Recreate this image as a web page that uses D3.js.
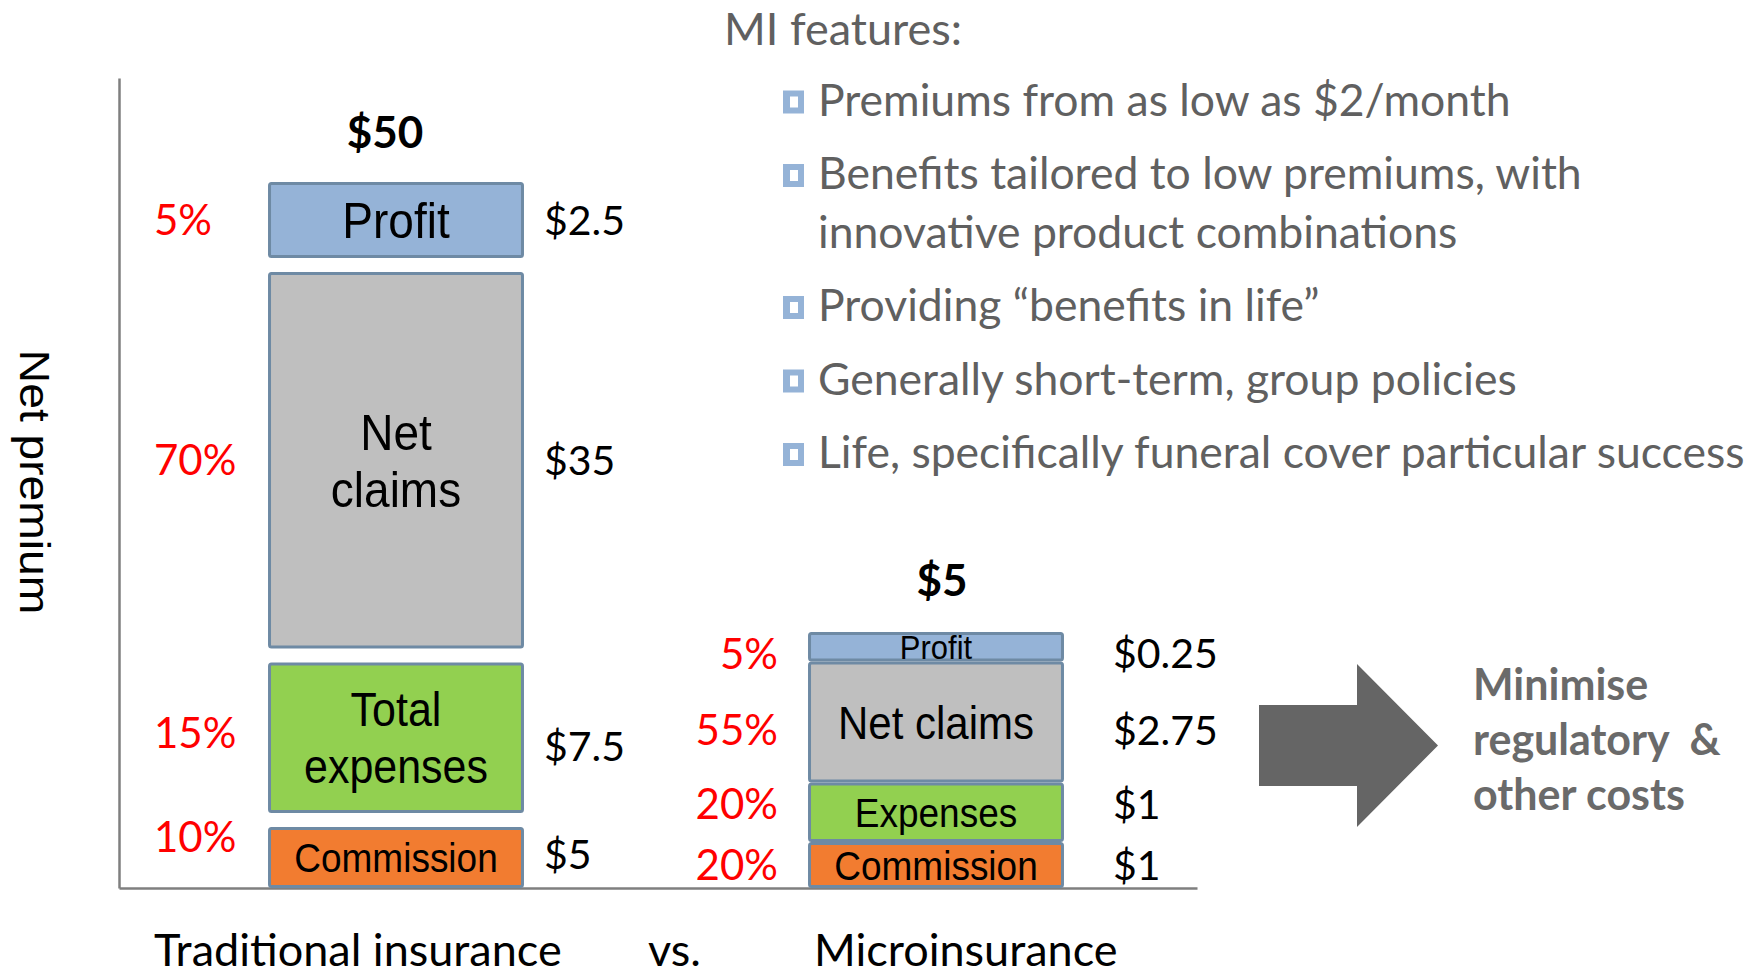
<!DOCTYPE html>
<html>
<head>
<meta charset="utf-8">
<script src="https://cdn.jsdelivr.net/npm/d3@7"></script>
<style>
  body { margin: 0; background: #fff; }
</style>
</head>
<body>
<svg id="chart"></svg>
<script>
// ---- data ----
// cost components, listed bottom to top of each stacked bar
var components = ["Commission", "Expenses", "Net claims", "Profit"];
var tradValues = [5, 7.5, 35, 2.5];        // $ per net premium of $50
var microValues = [1, 1, 2.75, 0.25];      // $ per net premium of $5
var tradBoxText = [["Commission"], ["Total", "expenses"], ["Net", "claims"], ["Profit"]];
var microBoxText = [["Commission"], ["Expenses"], ["Net claims"], ["Profit"]];
var products = ["Traditional insurance", "Microinsurance"];
var yLabel = "Net premium";
var featureTitle = "MI features:";
var features = [
  ["Premiums from as low as $2/month"],
  ["Benefits tailored to low premiums, with", "innovative product combinations"],
  ["Providing \u201cbenefits in life\u201d"],
  ["Generally short-term, group policies"],
  ["Life, specifically funeral cover particular success"]
];
var arrowText = ["Minimise", "regulatory  &", "other costs"];

// ---- style ----
var W = 1758, H = 976;
var fills = ["#f27c30", "#92d050", "#bfbfbf", "#95b3d7"];
var boxStroke = "#6e8aa4";
var calibri = "Lato, 'Open Sans', sans-serif";
var arial = "'Liberation Sans', Arial, sans-serif";
var greyText = "#606060";
var SY = 1.1;   // the slide is a little stretched vertically

var svg = d3.select("#chart").attr("width", W).attr("height", H);

function addText(parent, x, y, str, o) {
  return parent.append("text")
    .attr("transform", "translate(" + x + "," + y + ")" + (o.sy ? " scale(1," + o.sy + ")" : ""))
    .attr("text-anchor", o.anchor || "start")
    .style("font-family", o.font || calibri)
    .style("font-size", o.size + "px")
    .style("font-weight", o.bold ? "bold" : "normal")
    .style("fill", o.color || "#000")
    .style("white-space", "pre")
    .text(str);
}
// baseline that puts the cap-height middle on cy
function capBase(cy, size, sy) { return cy + 0.358 * size * (sy || 1); }

// ---- scales ----
var x = d3.scaleBand()
  .domain(products)
  .range([126, 1206])
  .paddingInner(0.526)
  .paddingOuter(0.263);

function bounds(values) { return [0].concat(Array.from(d3.cumsum(values))); }

// schematic scales: boxes are sized for legibility, not strictly to value
var tradY = d3.scaleLinear().domain(bounds(tradValues)).range([888, 820, 655.5, 265, 182]);
var microY = d3.scaleLinear().domain(bounds(microValues)).range([888, 842, 782.5, 661.5, 632]);

// ---- axes (lines only) ----
var axisY = d3.scaleLinear().range([888, 78]);
svg.append("g")
  .attr("transform", "translate(119,0)")
  .call(d3.axisLeft(axisY).tickValues([]).tickSizeOuter(0));
var axisX = d3.scaleLinear().range([119, 1197]);
svg.append("g")
  .attr("transform", "translate(0,888)")
  .call(d3.axisBottom(axisX).tickValues([]).tickSizeOuter(0));
svg.selectAll(".domain").attr("stroke", "#7f7f7f").attr("stroke-width", 2.5);

// y axis title
svg.append("text")
  .attr("transform", "translate(20,482) rotate(90) scale(" + SY + ",1)")
  .attr("text-anchor", "middle")
  .style("font-family", arial)
  .style("font-size", "42px")
  .text(yLabel);

// ---- stacked bars ----
var panels = [
  { name: products[0], values: tradValues, y: tradY, boxText: tradBoxText, gap: 14,
    boxSize: [37, 43, 46, 46], lineH: 57,
    pctX: 154, pctAnchor: "start", valX: 544,
    pctNudge: [-21, -5, 0, 0], valNudge: [-3, 9, 0, 0],
    totalDx: -11, totalDy: -34 },
  { name: products[1], values: microValues, y: microY, boxText: microBoxText, gap: 0,
    boxSize: [37, 37, 42, 31], lineH: 50,
    pctX: 778, pctAnchor: "end", valX: 1113,
    pctNudge: [0, -8, 8, 7], valNudge: [0, -8, 8, 7],
    totalDx: 6, totalDy: -36 }
];

panels.forEach(function (p) {
  var total = d3.sum(p.values);
  var b = bounds(p.values);
  var n = p.values.length;
  var x0 = x(p.name), bw = x.bandwidth();
  var segs = p.values.map(function (v, i) {
    var top = p.y(b[i + 1]) + (i < n - 1 ? p.gap / 2 : 0);
    var bot = p.y(b[i]) - (i > 0 ? p.gap / 2 : 0);
    return { i: i, v: v, top: top, bot: bot, mid: (top + bot) / 2 };
  });
  var g = svg.append("g");

  g.selectAll("rect")
    .data(segs)
    .enter()
    .append("rect")
    .attr("x", x0 + 1.5)
    .attr("y", function (d) { return d.top + 1.5; })
    .attr("width", bw - 3)
    .attr("height", function (d) { return d.bot - d.top - 3; })
    .attr("rx", 2)
    .attr("fill", function (d) { return fills[d.i]; })
    .attr("stroke", boxStroke)
    .attr("stroke-width", 3);

  // text inside boxes
  segs.forEach(function (d) {
    var lines = p.boxText[d.i], s = p.boxSize[d.i];
    lines.forEach(function (t, k) {
      var cy = d.mid + (k - (lines.length - 1) / 2) * p.lineH;
      addText(g, x0 + bw / 2, capBase(cy, s, SY), t,
        { font: arial, size: s, anchor: "middle", sy: SY });
    });
    // share of premium (red) and dollar amount
    addText(g, p.pctX, capBase(d.mid + p.pctNudge[d.i], 42), d3.format(".0%")(d.v / total),
      { size: 42, anchor: p.pctAnchor, color: "#ff0000" });
    addText(g, p.valX, capBase(d.mid + p.valNudge[d.i], 41), "$" + d.v,
      { size: 41 });
  });

  // total premium
  addText(g, x0 + bw / 2 + p.totalDx, p.y(total) + p.totalDy, "$" + total,
    { size: 44, bold: true, anchor: "middle" });
});

// ---- category labels ----
var catX = [154, 814];
products.forEach(function (c, i) {
  addText(svg, catX[i], 966, c, { size: 45 });
});
addText(svg, 648, 966, "vs.", { size: 45 });

// ---- MI features list ----
addText(svg, 724, 45, featureTitle, { size: 45, color: greyText });
var lineY = 115.5;
features.forEach(function (lines, i) {
  if (i > 0) lineY += 73.5;
  var mg = svg.append("g");
  mg.append("rect").attr("x", 783).attr("y", lineY - 25).attr("width", 21).attr("height", 23)
    .attr("fill", "#95b3d7");
  mg.append("rect").attr("x", 790).attr("y", lineY - 19).attr("width", 8).attr("height", 11)
    .attr("fill", "#fff");
  lines.forEach(function (t, k) {
    if (k > 0) lineY += 58.5;
    addText(svg, 818, lineY, t, { size: 44.5, color: greyText });
  });
});

// ---- arrow and note ----
var arrow = [[1259, 705], [1357, 705], [1357, 664], [1438, 745.5],
             [1357, 827], [1357, 786], [1259, 786]];
svg.append("path")
  .attr("d", d3.line()(arrow) + "Z")
  .attr("fill", "#656565");
arrowText.forEach(function (t, i) {
  addText(svg, 1473, 700 + i * 55, t, { size: 43, bold: true, color: "#6a6a6a" });
});
</script>
</body>
</html>
